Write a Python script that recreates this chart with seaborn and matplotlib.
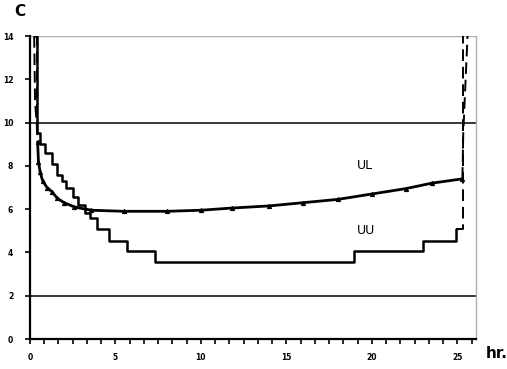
import matplotlib
matplotlib.use("Agg")
import matplotlib.pyplot as plt
import seaborn as sns
import numpy as np
import pandas as pd
from matplotlib.ticker import FixedLocator

# ---- data ----
ul_hours = [0.25, 0.30, 0.40, 0.45, 0.50, 0.60, 0.75, 1.0, 1.3, 1.6, 2.0, 2.6, 3.6, 5.5,
            8.0, 10.0, 11.8, 14.0, 16.0, 18.0, 20.0, 22.0, 23.5, 25.3, 25.35, 25.6]
ul_values = [14.0, 11.0, 9.9, 9.1, 8.2, 7.7, 7.3, 7.0, 6.8, 6.5, 6.3, 6.1, 5.95, 5.9,
             5.9, 5.95, 6.05, 6.15, 6.3, 6.45, 6.7, 6.95, 7.2, 7.4, 9.5, 14.0]

uu_hours = [0.30, 0.40, 0.60, 0.90, 1.3, 1.6, 1.9, 2.1, 2.5, 2.8, 3.2, 3.5, 3.9, 4.6,
            5.7, 7.3, 18.95, 22.97, 24.9, 25.35, 25.4]
uu_values = [14.0, 9.5, 9.0, 8.6, 8.1, 7.6, 7.3, 7.0, 6.55, 6.2, 5.8, 5.6, 5.1, 4.55,
             4.05, 3.55, 4.05, 4.55, 5.1, 14.0, 14.0]

ref_levels = [10, 2]
y_ticks = [0, 2, 4, 6, 8, 10, 12, 14]
x_ticks = [0, 5, 10, 15, 20, 25]
x_minor_step = 5 / 6

sns.set_theme(style="ticks")
plt.rcParams.update({
    'font.family': ['DejaVu Sans'],
    'text.color': 'black',
    'xtick.color': 'black', 'ytick.color': 'black',
})

fig = plt.figure(figsize=(5.07, 3.69), dpi=100)
ax = fig.add_axes([0.059, 0.0813, 0.88, 0.8211])

ul = pd.DataFrame({"h": ul_hours, "v": ul_values})
uu = pd.DataFrame({"h": uu_hours, "v": uu_values})

# reference levels
for lv in ref_levels:
    ax.axhline(lv, color="black", lw=1.1, zorder=1)
ax.axhline(14, color="#b0b0b0", lw=1.0, zorder=1)

# UU step curve
sns.lineplot(data=uu.iloc[:-2], x="h", y="v", drawstyle="steps-post", color="black",
             lw=1.8, ax=ax, sort=False, estimator=None)
sns.lineplot(data=uu.iloc[-3:-1], x="h", y="v", drawstyle="steps-post", color="black",
             lw=1.4, ls=(0, (6, 3)), ax=ax, sort=False, estimator=None)
sns.lineplot(data=uu.iloc[:2], x="h", y="v", drawstyle="steps-post", color="black",
             lw=1.4, ls=(0, (6, 3)), ax=ax, sort=False, estimator=None)

# UL curve
sns.lineplot(data=ul.iloc[3:-2], x="h", y="v", color="black", lw=2.0, marker="^",
             markersize=3, markeredgecolor="black", markerfacecolor="black",
             ax=ax, sort=False, estimator=None)
sns.lineplot(data=ul.iloc[:4], x="h", y="v", color="black", lw=1.4, ls=(0, (6, 3)),
             ax=ax, sort=False, estimator=None)
sns.lineplot(data=ul.iloc[-3:], x="h", y="v", color="black", lw=1.4, ls=(0, (6, 3)),
             ax=ax, sort=False, estimator=None)

xmax = 26.1
ax.set_xlim(0, xmax)
ax.set_ylim(0, 14)
ax.set_xlabel("")
ax.set_ylabel("")
ax.xaxis.set_major_locator(FixedLocator(x_ticks))
ax.yaxis.set_major_locator(FixedLocator(y_ticks))
ax.set_xticklabels([str(t) for t in x_ticks], fontsize=5.5, fontweight="bold", color="black")
ax.set_yticklabels([str(t) for t in y_ticks], fontsize=5.5, fontweight="bold", color="black")
ax.tick_params(axis="x", which="both", length=0, pad=10)
ax.tick_params(axis="y", which="both", length=0, pad=12)

# tick marks drawn as short line segments outside the axes
minor_pos = np.arange(0, xmax, x_minor_step)
ax.vlines(minor_pos, -0.017, 0, transform=ax.get_xaxis_transform(), colors="black",
          lw=1.2, clip_on=False)
ax.hlines(y_ticks, -0.012, 0, transform=ax.get_yaxis_transform(), colors="black",
          lw=1.2, clip_on=False)

for side in ["left", "bottom"]:
    ax.spines[side].set_color("black")
    ax.spines[side].set_linewidth(1.6)
ax.spines["right"].set_color("#b0b0b0")
ax.spines["right"].set_linewidth(1.0)
ax.spines["top"].set_visible(False)

ax.text(19.1, 7.85, "UL", fontsize=9, color="black")
ax.text(19.1, 4.85, "UU", fontsize=9, color="black")

fig.text(20 / 507, 1 - 12 / 369, "C", fontsize=11, fontweight="bold", ha="center", va="center", color="black")
fig.text(497 / 507, 1 - 354 / 369, "hr.", fontsize=11, fontweight="bold", ha="center", va="center", color="black")

fig.savefig("out.png", dpi=100)
